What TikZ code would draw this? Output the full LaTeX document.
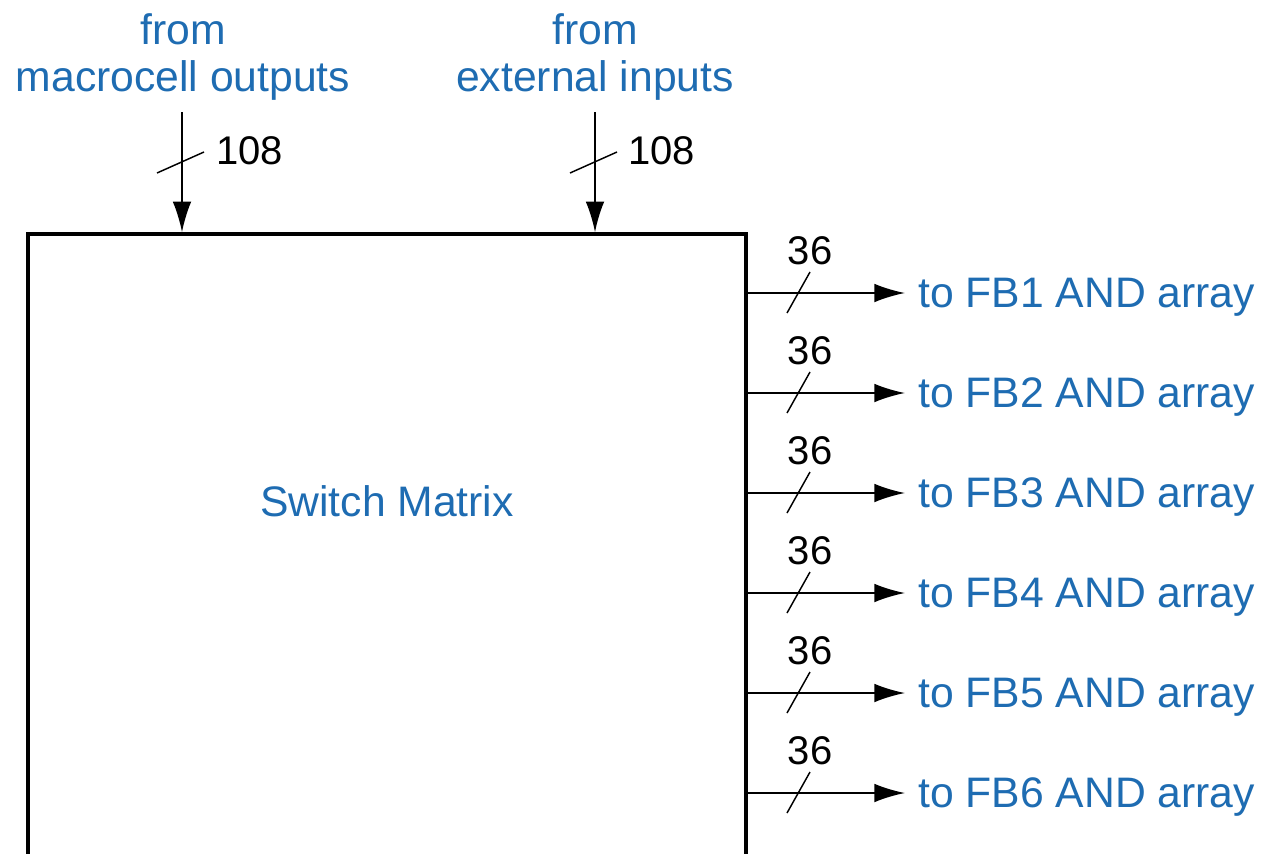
\documentclass[tikz,border=0pt]{standalone}
\usepackage{fontspec}
\setmainfont{Liberation Sans}
\usetikzlibrary{arrows.meta,calc}
\definecolor{lblue}{RGB}{30,108,178}
\begin{document}
\begin{tikzpicture}[x=0.75pt,y=-0.75pt,
  bluetext/.style={text=lblue,font=\fontsize{32}{35}\selectfont},
  numtext/.style={text=black,font=\fontsize{30}{34}\selectfont,inner sep=0pt},
  arr/.style={line width=1.5pt,-{Latex[length=23pt,width=14pt]}},
  busmark/.style={line width=1.1pt},
  outlabel/.style={bluetext,anchor=base west,inner sep=0pt}]
\useasboundingbox (0,0) rectangle (1263,853);
\clip (0,0) rectangle (1263,853);
\fill[white] (0,0) rectangle (1263,853);
% switch matrix box (bottom edge lies outside the picture)
\node[draw,line width=2.6pt,minimum width=538.5pt,minimum height=574.5pt,inner sep=0pt] (sm) at (387,617) {};
\node[bluetext] (smlabel) at (387,501) {Switch Matrix};
% inputs
\node[bluetext,align=center,inner sep=0pt] (src1) at (183,57) {from\\macrocell outputs};
\node[bluetext,align=center,inner sep=0pt] (src2) at (595,57) {from\\external inputs};
\coordinate (in1) at (182,112);
\coordinate (in2) at (595,112);
\draw[arr] (in1) -- (in1 |- sm.north);
\draw[arr] (in2) -- (in2 |- sm.north);
\coordinate (s1a) at (157,173); \coordinate (s1b) at (204,152);
\coordinate (s2a) at (570,173); \coordinate (s2b) at (617,152);
\draw[busmark] (s1a) -- (s1b);
\draw[busmark] (s2a) -- (s2b);
\node[numtext,anchor=west] (n1) at (216,151) {108};
\node[numtext,anchor=west] (n2) at (628,151) {108};
% outputs
\foreach \i/\y in {1/293,2/393,3/493,4/593,5/693,6/793}{
  \node[outlabel] (o\i) at (918,\y+14) {to FB\i\ AND array};
  \coordinate (t\i) at (905,\y);
  \draw[arr] (sm.east |- t\i) -- (t\i);
  \coordinate (m\i a) at (787,\y+20);
  \coordinate (m\i b) at (810,\y-21);
  \draw[busmark] (m\i a) -- (m\i b);
  \node[numtext] (c\i) at (810,\y-42) {36};
}
\end{tikzpicture}
\end{document}
